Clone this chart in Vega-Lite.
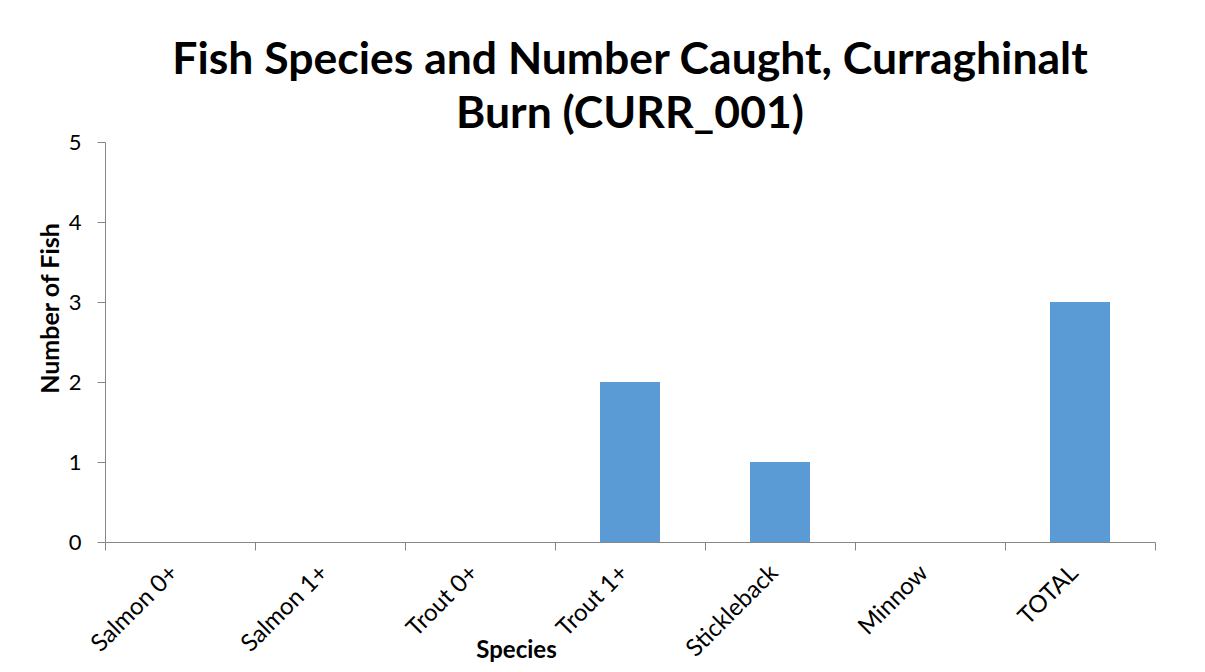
{
  "$schema": "https://vega.github.io/schema/vega-lite/v6.json",
  "autosize": "none",
  "padding": {"left": 105, "top": 142, "right": 50, "bottom": 130},
  "width": 1050,
  "height": 400,
  "background": "white",
  "title": {
    "text": ["Fish Species and Number Caught, Curraghinalt", "Burn (CURR_001)"],
    "font": "Lato",
    "fontSize": 44.5,
    "fontWeight": "bold",
    "color": "#000000",
    "anchor": "middle",
    "lineHeight": 54,
    "offset": -6
  },
  "data": {
    "values": [
      {"species": "Salmon 0+", "count": 0},
      {"species": "Salmon 1+", "count": 0},
      {"species": "Trout 0+", "count": 0},
      {"species": "Trout 1+", "count": 2},
      {"species": "Stickleback", "count": 1},
      {"species": "Minnow", "count": 0},
      {"species": "TOTAL", "count": 3}
    ]
  },
  "mark": {"type": "bar", "color": "#5B9BD5", "width": {"band": 0.4}},
  "encoding": {
    "x": {
      "field": "species",
      "type": "nominal",
      "sort": null,
      "scale": {"paddingInner": 0, "paddingOuter": 0},
      "axis": {
        "title": "Species",
        "titleFont": "Lato",
        "titleFontSize": 24,
        "titleFontWeight": "bold",
        "titleColor": "#000000",
        "titleX": 411,
        "titleY": 108,
        "titleBaseline": "middle",
        "titleAlign": "center",
        "labelAngle": -45,
        "labelAlign": "right",
        "labelBaseline": "middle",
        "labelFont": "Lato",
        "labelFontSize": 24,
        "labelColor": "#000000",
        "labelPadding": 19,
        "labelOffset": -6,
        "tickBand": "extent",
        "tickSize": 8,
        "tickColor": "#868686",
        "domainColor": "#868686",
        "grid": false
      }
    },
    "y": {
      "field": "count",
      "type": "quantitative",
      "scale": {"domain": [0, 5], "nice": false},
      "axis": {
        "title": "Number of Fish",
        "titleFont": "Lato",
        "titleFontSize": 25,
        "titleFontWeight": "bold",
        "titleColor": "#000000",
        "titleX": -55,
        "titleY": 166,
        "titleAngle": -90,
        "titleAlign": "center",
        "titleBaseline": "middle",
        "values": [0, 1, 2, 3, 4, 5],
        "labelFont": "Lato",
        "labelFontSize": 22,
        "labelColor": "#000000",
        "labelPadding": 16,
        "tickSize": 8,
        "tickColor": "#868686",
        "domainColor": "#868686",
        "grid": false
      }
    }
  },
  "config": {"view": {"stroke": null}}
}
